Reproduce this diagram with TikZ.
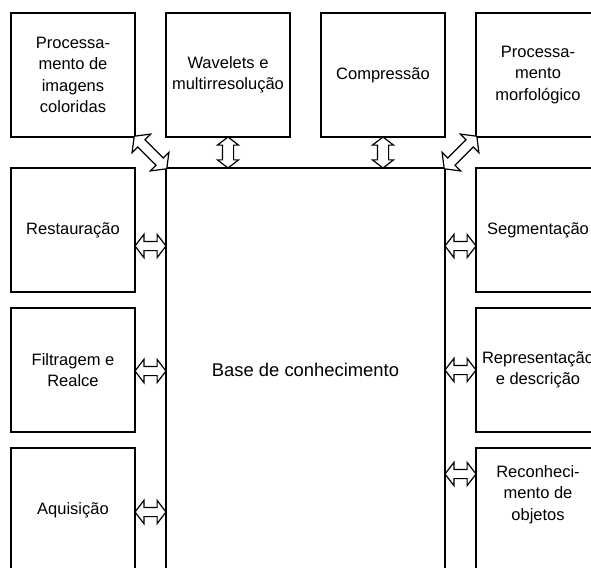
\documentclass[tikz,border=0pt]{standalone}
\usepackage{fontspec}
\setmainfont{Liberation Sans}
\usetikzlibrary{shapes,shapes.arrows,positioning,calc}

\tikzset{
  box/.style={draw, line width=1.2pt, minimum size=124pt, inner sep=1pt, align=center,
    font=\fontsize{16.5}{21.5}\selectfont},
  basebox/.style={draw, line width=1.2pt, minimum width=279pt, minimum height=404pt,
    font=\fontsize{18.4}{22}\selectfont},
  link/.style={double arrow, draw, fill=white, line width=1.2pt, inner xsep=0pt,
    inner ysep=4pt, double arrow head extend=7pt, double arrow tip angle=105,
    minimum height=31pt},
  vlink/.style={link, inner ysep=5pt, double arrow head extend=5pt},
  dlink/.style={link, inner ysep=4.5pt, double arrow head extend=8pt, minimum height=46pt},
}

\begin{document}
\begin{tikzpicture}[x=1pt, y=-1pt, node distance=155pt, on grid]

  \clip (0,0) rectangle (591,567);

  % Boxes of the top row
  \node[box] (color) at (73,75) {Processa-\\mento de\\imagens\\coloridas};
  \node[box] (wave) [right=of color] {Wavelets e\\multirresolução};
  \node[box] (compr) [right=of wave] {Compressão};
  \node[box] (morph) [right=of compr] {Processa-\\mento\\morfológico};

  % Boxes on the left
  \node[box] (restor) [below=of color] {Restauração};
  \node[box] (filter) [below=140pt of restor] {Filtragem e\\Realce};
  \node[box] (acqui) [below=140pt of filter] {Aquisição};

  % Boxes on the right
  \node[box] (segm) [below=of morph] {Segmentação};
  \node[box] (repr) [below=140pt of segm] {Representação\\e descrição};
  \node[box, text depth=34pt] (recog) [below=140pt of repr] {Reconheci-\\mento de\\objetos};

  % Knowledge base
  \node[basebox] (base) at (305.5,370) {Base de conhecimento};

  % Links from the top row
  \path (color.south east) -- node[dlink, sloped] {} (base.north west);
  \path (morph.south west) -- node[dlink, sloped] {} (base.north east);
  \path (wave.south) -- node[vlink, sloped] {} (wave.south |- base.north);
  \path (compr.south) -- node[vlink, sloped] {} (compr.south |- base.north);

  % Links from the sides
  \path ($(restor.east)+(0,16)$) -- node[link] {} ($(restor.east -| base.west)+(0,16)$);
  \path ($(filter.east)+(0,1)$) -- node[link] {} ($(filter.east -| base.west)+(0,1)$);
  \path ($(acqui.east)+(0,2)$) -- node[link] {} ($(acqui.east -| base.west)+(0,2)$);
  \path ($(segm.west)+(0,16)$) -- node[link] {} ($(segm.west -| base.east)+(0,16)$);
  \path (repr.west) -- node[link] {} (repr.west -| base.east);
  \path ($(recog.west)+(0,-36)$) -- node[link] {} ($(recog.west -| base.east)+(0,-36)$);

\end{tikzpicture}
\end{document}
